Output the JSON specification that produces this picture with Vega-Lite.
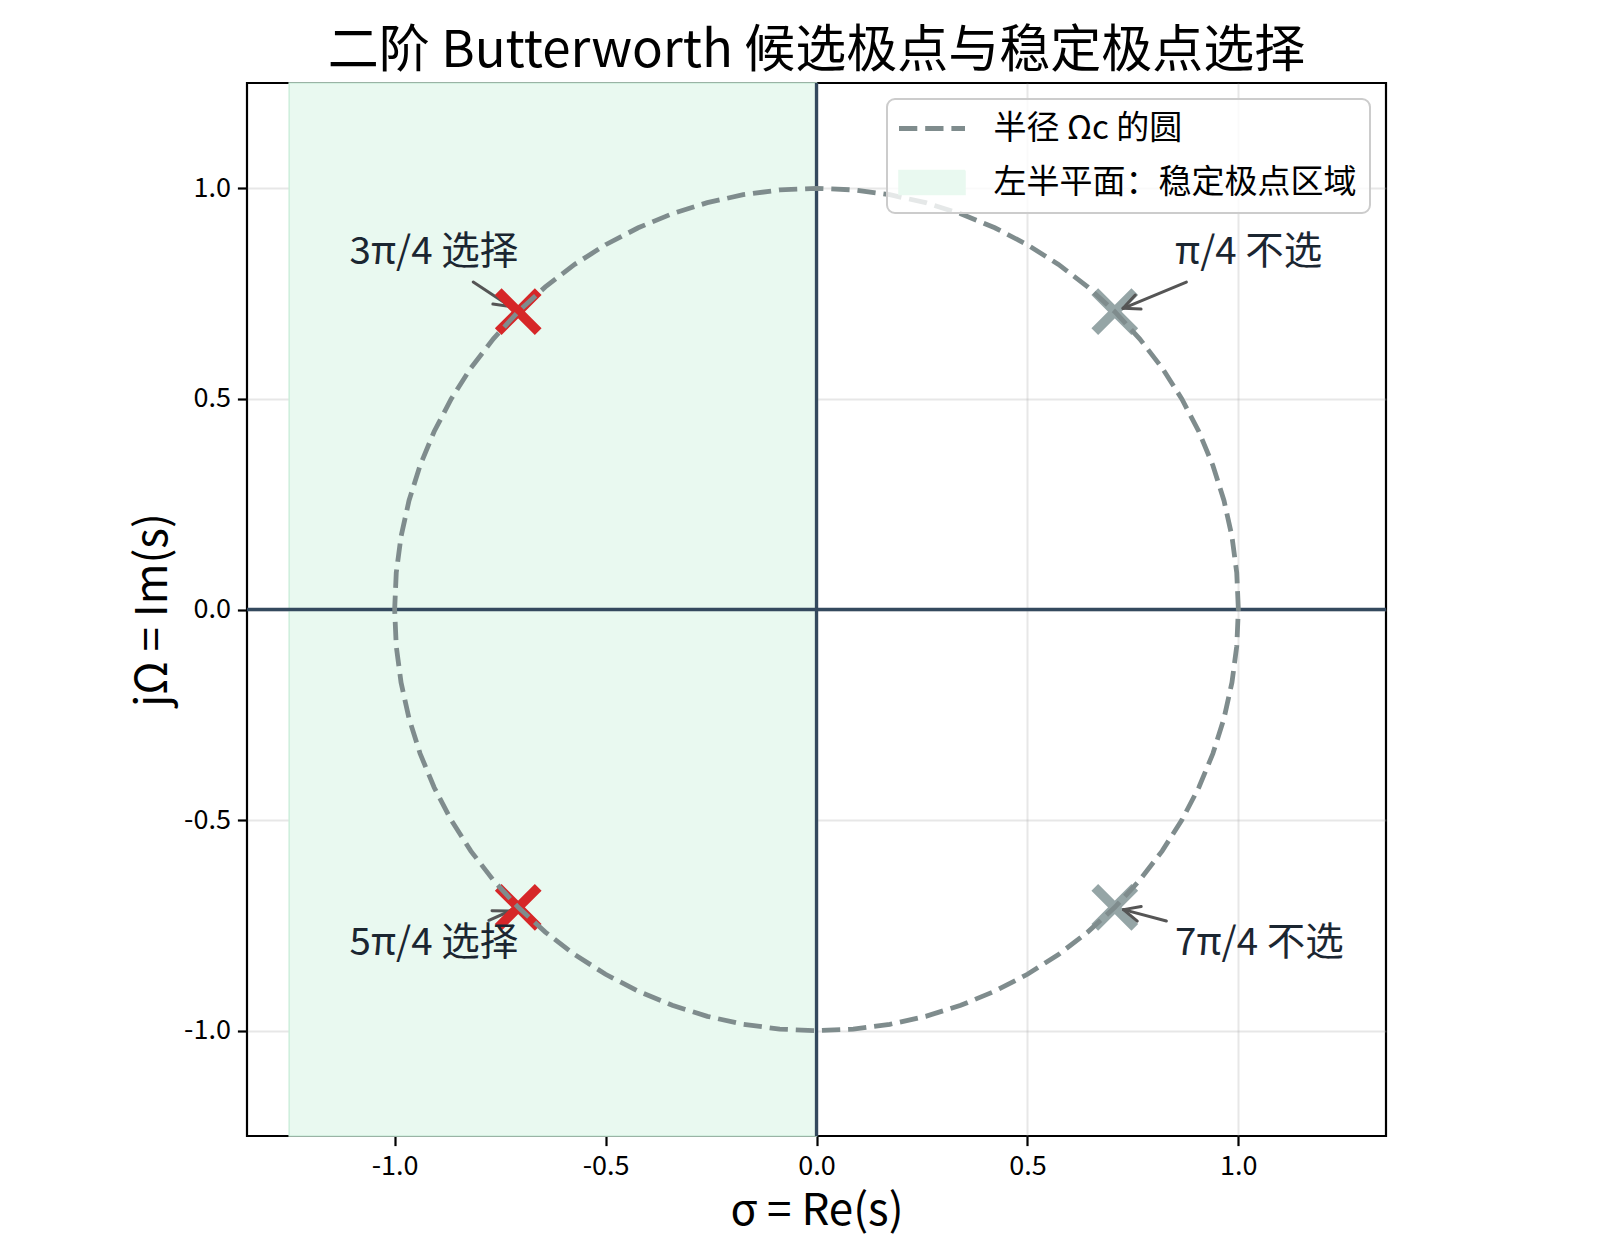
{
  "$schema": "https://vega.github.io/schema/vega-lite/v6.json",
  "width": 1139,
  "height": 1053,
  "autosize": {"type": "none"},
  "padding": {"left": 247, "top": 83, "right": 234, "bottom": 124},
  "background": "white",
  "title": {
    "text": "二阶 Butterworth 候选极点与稳定极点选择",
    "fontSize": 51,
    "font": "Noto Sans CJK SC",
    "fontWeight": "normal",
    "color": "#000000",
    "anchor": "middle",
    "frame": "group",
    "baseline": "bottom",
    "offset": 4,
    "dy": 52
  },
  "datasets": {
    "region": [{"x1": -1.25, "x2": 0, "y1": -1.25, "y2": 1.25}],
    "vline": [{"x": 0}],
    "hline": [{"y": 0}],
    "poles": [
      {"x": 0.7071, "y": 0.7071, "sel": "no"},
      {"x": -0.7071, "y": 0.7071, "sel": "yes"},
      {"x": -0.7071, "y": -0.7071, "sel": "yes"},
      {"x": 0.7071, "y": -0.7071, "sel": "no"}
    ],
    "circle": [
      {"t": 0, "x": 1, "y": 0}, {"t": 5, "x": 0.9962, "y": 0.0872}, {"t": 10, "x": 0.9848, "y": 0.1736},
      {"t": 15, "x": 0.9659, "y": 0.2588}, {"t": 20, "x": 0.9397, "y": 0.342}, {"t": 25, "x": 0.9063, "y": 0.4226},
      {"t": 30, "x": 0.866, "y": 0.5}, {"t": 35, "x": 0.8192, "y": 0.5736}, {"t": 40, "x": 0.766, "y": 0.6428},
      {"t": 45, "x": 0.7071, "y": 0.7071}, {"t": 50, "x": 0.6428, "y": 0.766}, {"t": 55, "x": 0.5736, "y": 0.8192},
      {"t": 60, "x": 0.5, "y": 0.866}, {"t": 65, "x": 0.4226, "y": 0.9063}, {"t": 70, "x": 0.342, "y": 0.9397},
      {"t": 75, "x": 0.2588, "y": 0.9659}, {"t": 80, "x": 0.1736, "y": 0.9848}, {"t": 85, "x": 0.0872, "y": 0.9962},
      {"t": 90, "x": 0, "y": 1}, {"t": 95, "x": -0.0872, "y": 0.9962}, {"t": 100, "x": -0.1736, "y": 0.9848},
      {"t": 105, "x": -0.2588, "y": 0.9659}, {"t": 110, "x": -0.342, "y": 0.9397}, {"t": 115, "x": -0.4226, "y": 0.9063},
      {"t": 120, "x": -0.5, "y": 0.866}, {"t": 125, "x": -0.5736, "y": 0.8192}, {"t": 130, "x": -0.6428, "y": 0.766},
      {"t": 135, "x": -0.7071, "y": 0.7071}, {"t": 140, "x": -0.766, "y": 0.6428}, {"t": 145, "x": -0.8192, "y": 0.5736},
      {"t": 150, "x": -0.866, "y": 0.5}, {"t": 155, "x": -0.9063, "y": 0.4226}, {"t": 160, "x": -0.9397, "y": 0.342},
      {"t": 165, "x": -0.9659, "y": 0.2588}, {"t": 170, "x": -0.9848, "y": 0.1736}, {"t": 175, "x": -0.9962, "y": 0.0872},
      {"t": 180, "x": -1, "y": 0}, {"t": 185, "x": -0.9962, "y": -0.0872}, {"t": 190, "x": -0.9848, "y": -0.1736},
      {"t": 195, "x": -0.9659, "y": -0.2588}, {"t": 200, "x": -0.9397, "y": -0.342}, {"t": 205, "x": -0.9063, "y": -0.4226},
      {"t": 210, "x": -0.866, "y": -0.5}, {"t": 215, "x": -0.8192, "y": -0.5736}, {"t": 220, "x": -0.766, "y": -0.6428},
      {"t": 225, "x": -0.7071, "y": -0.7071}, {"t": 230, "x": -0.6428, "y": -0.766}, {"t": 235, "x": -0.5736, "y": -0.8192},
      {"t": 240, "x": -0.5, "y": -0.866}, {"t": 245, "x": -0.4226, "y": -0.9063}, {"t": 250, "x": -0.342, "y": -0.9397},
      {"t": 255, "x": -0.2588, "y": -0.9659}, {"t": 260, "x": -0.1736, "y": -0.9848}, {"t": 265, "x": -0.0872, "y": -0.9962},
      {"t": 270, "x": 0, "y": -1}, {"t": 275, "x": 0.0872, "y": -0.9962}, {"t": 280, "x": 0.1736, "y": -0.9848},
      {"t": 285, "x": 0.2588, "y": -0.9659}, {"t": 290, "x": 0.342, "y": -0.9397}, {"t": 295, "x": 0.4226, "y": -0.9063},
      {"t": 300, "x": 0.5, "y": -0.866}, {"t": 305, "x": 0.5736, "y": -0.8192}, {"t": 310, "x": 0.6428, "y": -0.766},
      {"t": 315, "x": 0.7071, "y": -0.7071}, {"t": 320, "x": 0.766, "y": -0.6428}, {"t": 325, "x": 0.8192, "y": -0.5736},
      {"t": 330, "x": 0.866, "y": -0.5}, {"t": 335, "x": 0.9063, "y": -0.4226}, {"t": 340, "x": 0.9397, "y": -0.342},
      {"t": 345, "x": 0.9659, "y": -0.2588}, {"t": 350, "x": 0.9848, "y": -0.1736}, {"t": 355, "x": 0.9962, "y": -0.0872},
      {"t": 360, "x": 1, "y": 0}
    ],
    "arrows": [
      {"x": -0.8137, "y": 0.7775, "x2": -0.7249, "y2": 0.7189},
      {"x": -0.7249, "y": 0.7189, "x2": -0.7472, "y2": 0.7552},
      {"x": -0.7249, "y": 0.7189, "x2": -0.7671, "y2": 0.7251},
      {"x": -0.7765, "y": -0.7379, "x2": -0.7265, "y2": -0.7158},
      {"x": -0.7265, "y": -0.7158, "x2": -0.7692, "y2": -0.7151},
      {"x": -0.7265, "y": -0.7158, "x2": -0.7545, "y2": -0.7481},
      {"x": 0.8768, "y": 0.7775, "x2": 0.7268, "y2": 0.7151},
      {"x": 0.7268, "y": 0.7151, "x2": 0.7694, "y2": 0.7132},
      {"x": 0.7268, "y": 0.7151, "x2": 0.7557, "y2": 0.7467},
      {"x": 0.8294, "y": -0.7396, "x2": 0.7277, "y2": -0.7125},
      {"x": 0.7277, "y": -0.7125, "x2": 0.7604, "y2": -0.7398},
      {"x": 0.7277, "y": -0.7125, "x2": 0.7697, "y2": -0.7049}
    ],
    "labels": [
      {"x": -0.7071, "y": 0.82, "label": "3π/4 选择", "side": "L"},
      {"x": -0.7071, "y": -0.82, "label": "5π/4 选择", "side": "L"},
      {"x": 0.85, "y": 0.82, "label": "π/4 不选", "side": "R"},
      {"x": 0.85, "y": -0.82, "label": "7π/4 不选", "side": "R"}
    ]
  },
  "layer": [
    {
      "data": {"name": "region"},
      "mark": {"type": "rect", "stroke": "#cdeedb", "strokeWidth": 1.5},
      "encoding": {
        "x": {
          "field": "x1", "type": "quantitative", "title": "σ = Re(s)",
          "scale": {"domain": [-1.35, 1.35], "nice": false, "zero": false},
          "axis": {"values": [-1, -0.5, 0, 0.5, 1], "labelExpr": "datum.value < 0 ? '-' + format(-datum.value, '.1f') : format(datum.value, '.1f')"}
        },
        "x2": {"field": "x2"},
        "y": {
          "field": "y1", "type": "quantitative", "title": "jΩ = Im(s)",
          "scale": {"domain": [-1.25, 1.25], "nice": false, "zero": false},
          "axis": {"values": [-1, -0.5, 0, 0.5, 1], "labelExpr": "datum.value < 0 ? '-' + format(-datum.value, '.1f') : format(datum.value, '.1f')"}
        },
        "y2": {"field": "y2"},
        "color": {"datum": "左半平面：稳定极点区域", "type": "nominal"}
      }
    },
    {
      "data": {"name": "vline"},
      "mark": {"type": "rule", "color": "#34495e", "strokeWidth": 3.3},
      "encoding": {"x": {"field": "x", "type": "quantitative", "title": "σ = Re(s)"}}
    },
    {
      "data": {"name": "hline"},
      "mark": {"type": "rule", "color": "#34495e", "strokeWidth": 3.3},
      "encoding": {"y": {"field": "y", "type": "quantitative", "title": "jΩ = Im(s)"}}
    },
    {
      "data": {"name": "poles"},
      "transform": [{"filter": "datum.sel === 'no'"}],
      "mark": {"type": "point", "shape": "M-1,-1L1,1M-1,1L1,-1", "size": 1600, "filled": false, "stroke": "#95a5a6", "strokeWidth": 9.5, "strokeCap": "butt", "opacity": 1},
      "encoding": {
        "x": {"field": "x", "type": "quantitative", "title": "σ = Re(s)"},
        "y": {"field": "y", "type": "quantitative", "title": "jΩ = Im(s)"}
      }
    },
    {
      "data": {"name": "arrows"},
      "mark": {"type": "rule", "color": "#555555", "strokeWidth": 3, "strokeCap": "round"},
      "encoding": {
        "x": {"field": "x", "type": "quantitative", "title": "σ = Re(s)"},
        "y": {"field": "y", "type": "quantitative", "title": "jΩ = Im(s)"},
        "x2": {"field": "x2"},
        "y2": {"field": "y2"}
      }
    },
    {
      "data": {"name": "poles"},
      "transform": [{"filter": "datum.sel === 'yes'"}],
      "mark": {"type": "point", "shape": "M-1,-1L1,1M-1,1L1,-1", "size": 1600, "filled": false, "stroke": "#d62728", "strokeWidth": 9.5, "strokeCap": "butt", "opacity": 1},
      "encoding": {
        "x": {"field": "x", "type": "quantitative", "title": "σ = Re(s)"},
        "y": {"field": "y", "type": "quantitative", "title": "jΩ = Im(s)"}
      }
    },
    {
      "data": {"name": "circle"},
      "mark": {"type": "line", "strokeWidth": 4.8, "strokeDash": [18.3, 7.9], "interpolate": "linear"},
      "encoding": {
        "x": {"field": "x", "type": "quantitative", "title": "σ = Re(s)"},
        "y": {"field": "y", "type": "quantitative", "title": "jΩ = Im(s)"},
        "order": {"field": "t", "type": "quantitative"},
        "color": {
          "datum": "半径 Ωc 的圆", "type": "nominal",
          "scale": {"domain": ["半径 Ωc 的圆", "左半平面：稳定极点区域"], "range": ["#7f8c8d", "#e9f9f0"]},
          "legend": {
            "title": null,
            "orient": "top-right",
            "offset": 16,
            "padding": 13,
            "rowPadding": 20,
            "labelOffset": 45,
            "symbolOffset": 15.5,
            "labelFontSize": 33,
            "labelFont": "Noto Sans CJK SC",
            "labelColor": "#000000",
            "labelLimit": 0,
            "symbolSize": 1089,
            "symbolType": "stroke",
            "fillColor": "rgba(255,255,255,0.8)",
            "strokeColor": "#cccccc",
            "cornerRadius": 8,
            "encode": {
              "legend": {"update": {"strokeWidth": {"value": 2}}},
              "symbols": {
                "update": {
                  "shape": {"signal": "datum.value === '半径 Ωc 的圆' ? 'M-2,0L2,0' : 'M-2,-0.73L2,-0.73L2,0.73L-2,0.73Z'"},
                  "strokeDash": {"signal": "datum.value === '半径 Ωc 的圆' ? [18.3, 7.9] : [1, 0]"},
                  "strokeWidth": {"signal": "datum.value === '半径 Ωc 的圆' ? 4.8 : 1.5"},
                  "opacity": {"value": 1}
                }
              }
            }
          }
        }
      }
    },
    {
      "data": {"name": "labels"},
      "transform": [{"filter": "datum.side === 'L'"}],
      "mark": {"type": "text", "align": "right", "baseline": "alphabetic", "fontSize": 38.5, "font": "Noto Sans CJK SC", "color": "#1b2631"},
      "encoding": {
        "x": {"field": "x", "type": "quantitative", "title": "σ = Re(s)"},
        "y": {"field": "y", "type": "quantitative", "title": "jΩ = Im(s)"},
        "text": {"field": "label"}
      }
    },
    {
      "data": {"name": "labels"},
      "transform": [{"filter": "datum.side === 'R'"}],
      "mark": {"type": "text", "align": "left", "baseline": "alphabetic", "fontSize": 38.5, "font": "Noto Sans CJK SC", "color": "#1b2631"},
      "encoding": {
        "x": {"field": "x", "type": "quantitative", "title": "σ = Re(s)"},
        "y": {"field": "y", "type": "quantitative", "title": "jΩ = Im(s)"},
        "text": {"field": "label"}
      }
    }
  ],
  "config": {
    "font": "Noto Sans CJK SC",
    "view": {"stroke": "#000000", "strokeWidth": 2.2},
    "axis": {
      "zindex": 1,
      "grid": true,
      "gridColor": "#b0b0b0",
      "gridOpacity": 0.3,
      "gridWidth": 2,
      "domain": false,
      "ticks": true,
      "tickSize": 9.6,
      "tickWidth": 2.2,
      "tickColor": "#000000",
      "labelFontSize": 27,
      "labelColor": "#000000",
      "labelFont": "Noto Sans CJK SC",
      "titleFont": "Noto Sans CJK SC",
      "titleFontSize": 44,
      "titleFontWeight": "normal",
      "titleColor": "#000000",
      "labelPadding": 8
    },
    "axisX": {"titlePadding": 10},
    "axisY": {"titlePadding": 8, "labelPadding": 7}
  }
}
